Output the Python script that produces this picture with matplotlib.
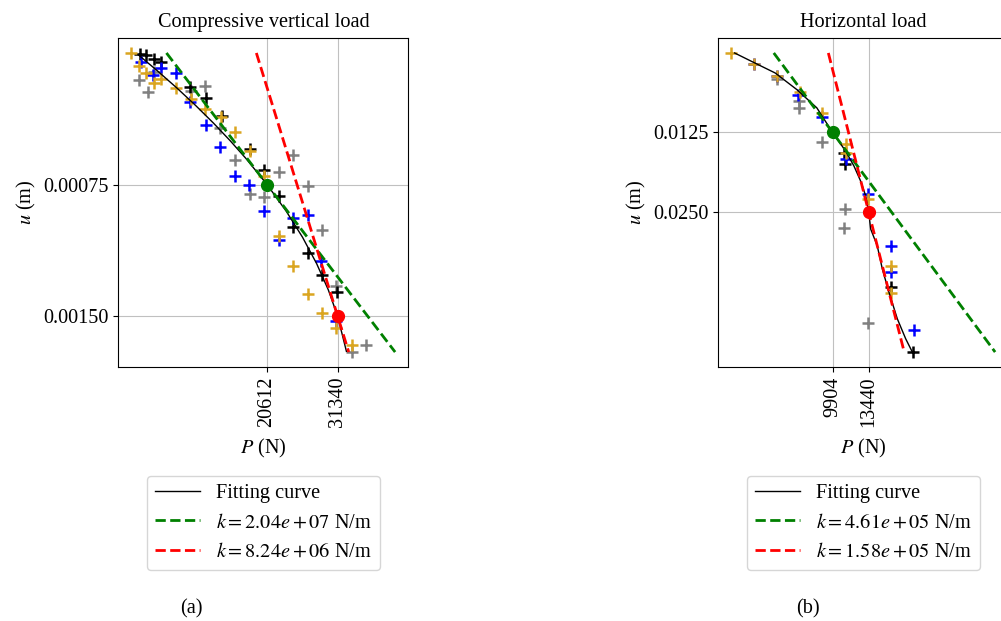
import matplotlib
matplotlib.use("Agg")
import matplotlib.pyplot as plt


# =========================
# DATA
# =========================
# (a) compressive vertical load
P_LEFT_GRAY = [1120, 2520, 3430, 8980, 11180, 13400, 15670, 17940, 20200, 22370, 24480, 26900, 29010, 31130, 33460, 35660]
U_LEFT_GRAY = [0.000155, 0.000221, 0.000111, 0.000215, 0.000189, 0.000429, 0.000612, 0.000801, 0.00082, 0.00068,
               0.00058, 0.00076, 0.001009, 0.001327, 0.001704, 0.001663]

P_LEFT_BLACK = [1240, 2220, 3360, 4490, 8950, 11290, 13780, 17940, 20200, 22470, 24480, 26780, 28890, 31280]
U_LEFT_BLACK = [0.000007, 0.000013, 0.000032, 0.000051, 0.000192, 0.000254, 0.000359, 0.000546, 0.000665, 0.000816,
                0.00099, 0.001141, 0.001263, 0.001364]

P_LEFT_BLUE = [1510, 3280, 4540, 6800, 8870, 11290, 13400, 15670, 17860, 20100, 22470, 24480, 26900, 28770, 31040]
U_LEFT_BLUE = [0.000051, 0.000126, 0.000088, 0.000117, 0.000282, 0.00041, 0.000533, 0.000703, 0.00075, 0.000901,
               0.001066, 0.000939, 0.000926, 0.001185, 0.001525]

P_LEFT_GOLD = [0, 1170, 2220, 3430, 4490, 6760, 9100, 11140, 13560, 15670, 17940, 20200, 22370, 24480, 26780, 28890, 31130, 33550]
U_LEFT_GOLD = [0.0, 0.000075, 0.000117, 0.000172, 0.000151, 0.000197, 0.000262, 0.000322, 0.000365, 0.00045,
               0.000557, 0.000699, 0.001045, 0.001213, 0.001374, 0.001481, 0.001568, 0.001663]

FIT_P_LEFT = [1020, 3880, 6910, 9770, 12470, 15000, 17370, 20612, 23490, 26000, 28140, 29920, 31340, 32670]
FIT_U_LEFT = [0.00001, 0.0001, 0.0002, 0.0003, 0.0004, 0.0005, 0.0006, 0.00075, 0.0009, 0.00105, 0.0012, 0.00135, 0.0015, 0.0017]

K_LEFT = [2.04e7, 8.24e6]
POINT_P_LEFT = [20612, 31340]
POINT_U_LEFT = [0.00075, 0.0015]
YTICKS_LEFT = [0.00075, 0.0015]
YLABELS_LEFT = ["0.00075", "0.00150"]

# (b) horizontal load
P_RIGHT_GRAY = [4430, 6660, 6660, 8850, 11100, 11060, 13350]
U_RIGHT_GRAY = [0.00408, 0.00759, 0.00863, 0.01402, 0.02447, 0.02748, 0.04241]

P_RIGHT_BLACK = [11060, 11160, 15600, 17760]
U_RIGHT_BLACK = [0.01572, 0.01744, 0.03686, 0.0470]

P_RIGHT_BLUE = [2200, 4430, 6530, 8830, 11180, 13350, 15580, 15600, 17890]
U_RIGHT_BLUE = [0.00168, 0.00356, 0.00654, 0.01007, 0.01666, 0.02222, 0.03043, 0.03441, 0.04355]

P_RIGHT_GOLD = [0, 2200, 4430, 6690, 8850, 11180, 11180, 13420, 15600, 15600]
U_RIGHT_GOLD = [0.0, 0.00168, 0.00356, 0.0061, 0.00952, 0.01438, 0.0158, 0.02293, 0.03347, 0.03783]

FIT_P_RIGHT = [300, 2150, 4270, 6400, 8360, 9904, 11180, 12000, 12650, 13150, 13440, 13640, 14280, 14780, 15430, 16250, 17070, 17720]
FIT_U_RIGHT = [0.0, 0.00147, 0.00314, 0.00576, 0.00863, 0.0125, 0.01543, 0.01779, 0.02014, 0.02249, 0.025, 0.02771,
               0.03033, 0.03399, 0.03764, 0.04183, 0.04497, 0.04705]

K_RIGHT = [4.61e5, 1.58e5]
POINT_P_RIGHT = [9904, 13440]
POINT_U_RIGHT = [0.0125, 0.025]
YTICKS_RIGHT = [0.0125, 0.025]
YLABELS_RIGHT = ["0.0125", "0.0250"]


# =========================
# STYLE
# =========================
FS = 14.6
plt.rcParams["font.family"] = "serif"
plt.rcParams["font.serif"] = ["Liberation Serif", "DejaVu Serif"]
plt.rcParams["mathtext.fontset"] = "stix"
plt.rcParams["font.size"] = FS

SERIES_COLORS = ["gray", "black", "blue", "goldenrod"]


# =========================
# PANEL
# =========================
def draw_panel(ax, series, fit_p, fit_u, ks, pt_p, pt_u, yticks, ylabels, title):
    for (p, u), c in zip(series, SERIES_COLORS):
        ax.plot(p, u, linestyle="", marker="+", color=c, ms=8, mew=1.8, zorder=2)

    ax.plot(fit_p, fit_u, color="black", lw=1, label="Fitting curve", zorder=3)

    u_all = fit_u + [v for _, u in series for v in u]
    u_top, u_bot = 0.0, max(u_all)
    for k, p0, u0, c in zip(ks, pt_p, pt_u, ["green", "red"]):
        xs = [p0 + k * (u_top - u0), p0 + k * (u_bot - u0)]
        ax.plot(xs, [u_top, u_bot], "--", color=c, lw=2,
                label=f"$k = {k:.2e}$ N/m", zorder=4)

    for p0, u0, c in zip(pt_p, pt_u, ["green", "red"]):
        ax.plot(p0, u0, "o", color=c, ms=8.5, zorder=5)

    ax.invert_yaxis()
    ax.set_xticks(pt_p)
    ax.set_xticklabels([str(v) for v in pt_p], rotation=90)
    ax.set_yticks(yticks)
    ax.set_yticklabels(ylabels)
    ax.grid(True, color="#c0c0c0", lw=0.8)
    ax.set_axisbelow(True)
    ax.set_xlabel("$P$ (N)", labelpad=7)
    ax.set_ylabel("$u$ (m)")
    ax.set_title(title, fontsize=FS, pad=8)
    ax.legend(loc="upper center", bbox_to_anchor=(0.5, -0.30), fontsize=FS,
              handlelength=2.2)


fig = plt.figure(figsize=(10.01, 6.21), dpi=100)
ax1 = fig.add_axes([0.1182, 0.409, 0.2897, 0.5298])
ax2 = fig.add_axes([0.7176, 0.409, 0.2897, 0.5298])

draw_panel(ax1,
           [(P_LEFT_GRAY, U_LEFT_GRAY), (P_LEFT_BLACK, U_LEFT_BLACK),
            (P_LEFT_BLUE, U_LEFT_BLUE), (P_LEFT_GOLD, U_LEFT_GOLD)],
           FIT_P_LEFT, FIT_U_LEFT, K_LEFT, POINT_P_LEFT, POINT_U_LEFT,
           YTICKS_LEFT, YLABELS_LEFT, "Compressive vertical load")

draw_panel(ax2,
           [(P_RIGHT_GRAY, U_RIGHT_GRAY), (P_RIGHT_BLACK, U_RIGHT_BLACK),
            (P_RIGHT_BLUE, U_RIGHT_BLUE), (P_RIGHT_GOLD, U_RIGHT_GOLD)],
           FIT_P_RIGHT, FIT_U_RIGHT, K_RIGHT, POINT_P_RIGHT, POINT_U_RIGHT,
           YTICKS_RIGHT, YLABELS_RIGHT, "Horizontal load")

fig.text(191 / 1001, 1 - 609 / 621, "(a)", ha="center", va="center", fontsize=FS)
fig.text(808 / 1001, 1 - 609 / 621, "(b)", ha="center", va="center", fontsize=FS)

fig.savefig("out.png", dpi=100)
